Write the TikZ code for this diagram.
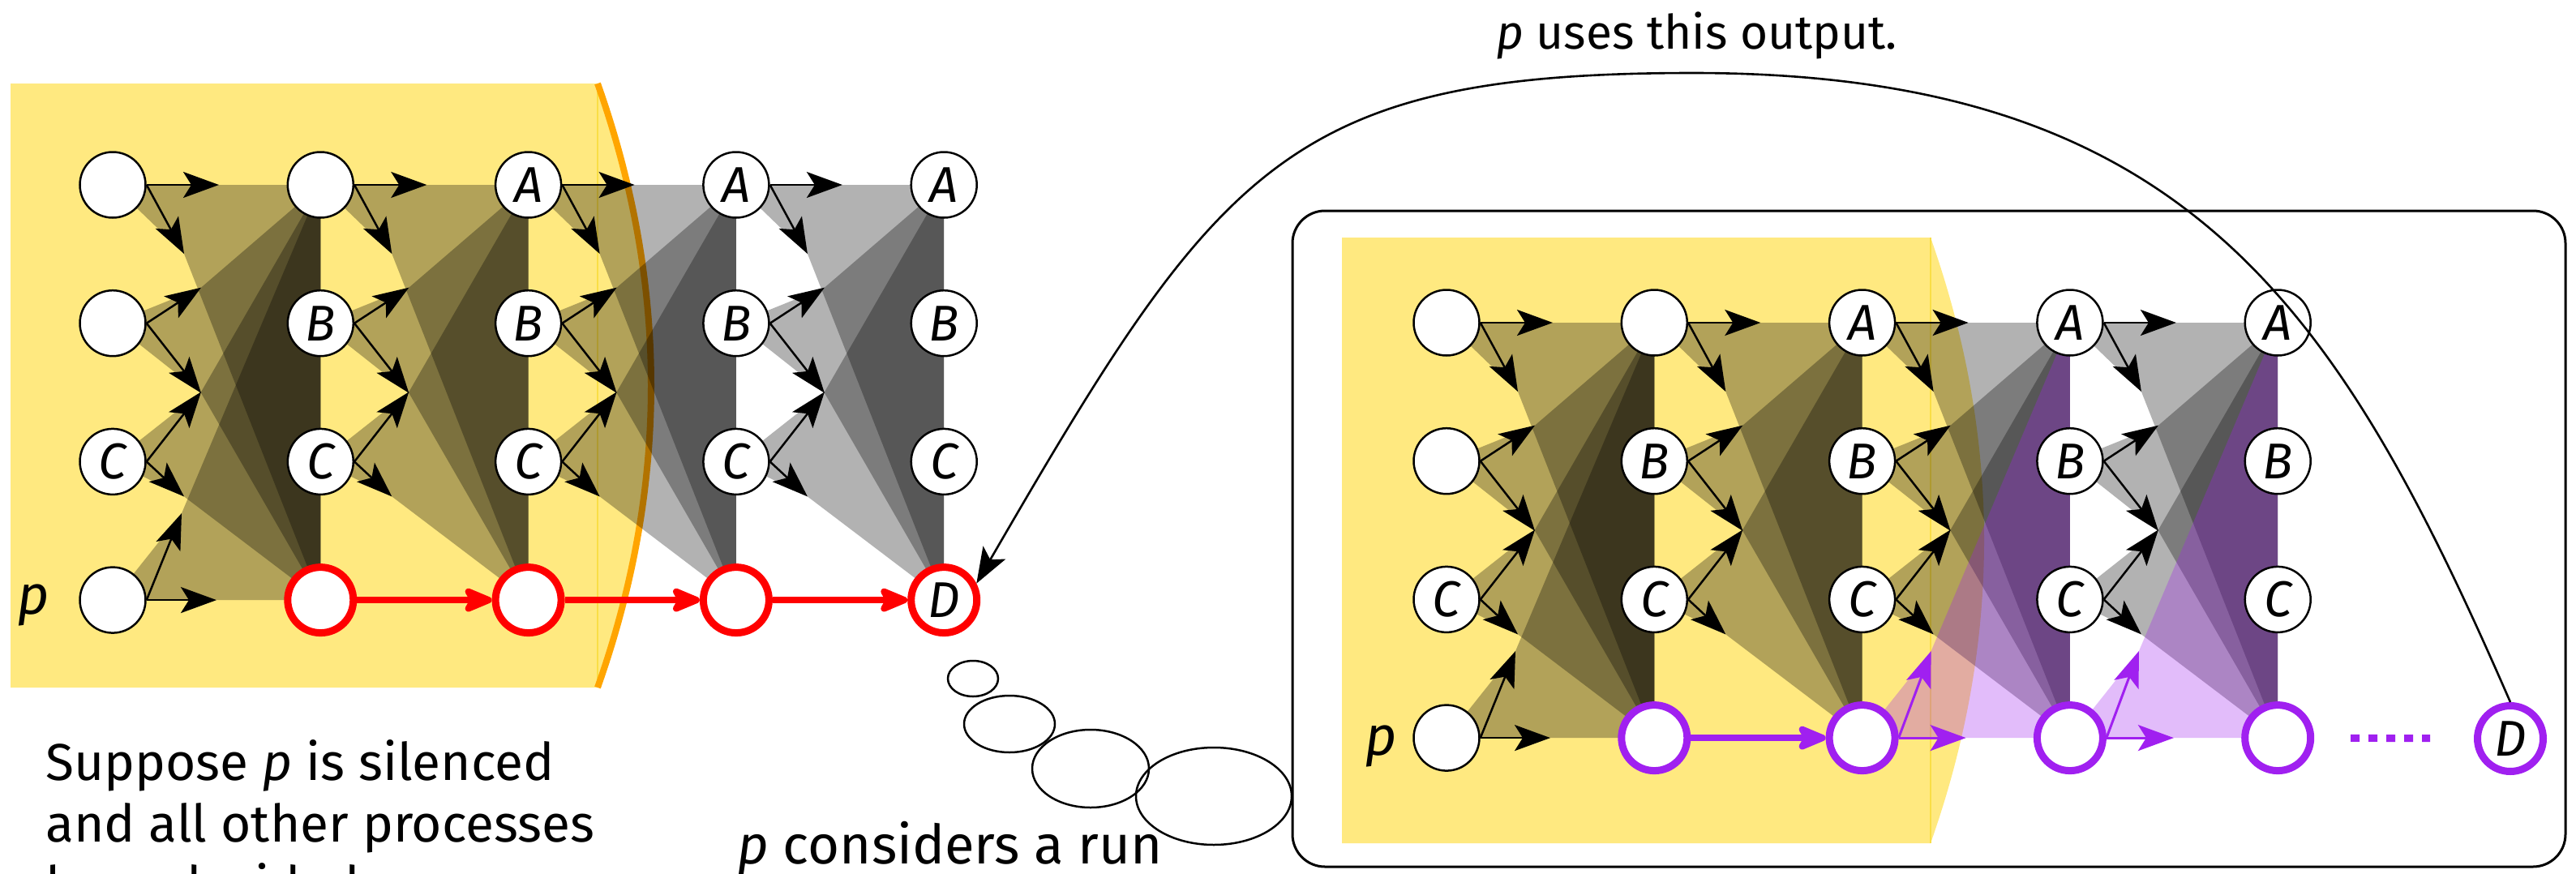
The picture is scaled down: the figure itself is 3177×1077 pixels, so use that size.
\documentclass[tikz,border=0pt]{standalone}
\usepackage{fontspec}
\setmainfont{Fira Sans}
\usetikzlibrary{arrows.meta}
\pgfdeclarelayer{yellowlayer}
\pgfdeclarelayer{fanlayer}
\pgfdeclarelayer{purplelayer}
\pgfsetlayers{yellowlayer,fanlayer,purplelayer,main}
\definecolor{ylw}{RGB}{255,233,128}
\definecolor{orng}{RGB}{255,165,0}
\definecolor{prp}{RGB}{160,32,240}
\definecolor{seamc}{RGB}{250,222,70}
\tikzset{
  proc/.style={circle, draw=black, line width=1.25pt, fill=white, minimum size=40.5pt, inner sep=0pt,
    font=\fontsize{31}{31}\selectfont\itshape},
  redproc/.style={proc, draw=red, line width=4.5pt},
  prpproc/.style={proc, draw=prp, line width=4.5pt},
  msg/.style={line width=1.25pt, -{Stealth[length=22pt,width=16pt,inset=5pt]}},
  prpmsg/.style={draw=prp, line width=1.5pt, -{Stealth[length=22pt,width=16pt,inset=5pt]}},
  redrun/.style={draw=red, line width=4pt, -{Stealth[length=22pt,width=18pt,inset=5pt,round]}},
  prprun/.style={redrun, draw=prp},
  fan/.style={fill=black, fill opacity=0.3},
  pfan/.style={fill=prp, fill opacity=0.3},
  txt/.style={inner sep=0pt, font=\fontsize{32}{38}\selectfont},
  toptxt/.style={inner sep=0pt, font=\fontsize{29.3}{36}\selectfont},
  plabel/.style={inner sep=0pt, font=\fontsize{34}{34}\selectfont\itshape},
  bubble/.style={draw=black, line width=1.25pt},
}
\begin{document}
\begin{tikzpicture}[x=0.5pt,y=-0.5pt]
\useasboundingbox (0,0) rectangle (3177,1077);
\clip (0,0) rectangle (3177,1077);

% ---------- yellow regions ----------
\begin{pgfonlayer}{yellowlayer}
  \fill[ylw] (13,103) -- (737,103) .. controls (825,351) and (825,600) .. (737,848) -- (13,848) -- cycle;
  \draw[seamc, line width=1pt] (737,103) -- (737,848);
  \draw[orng, line width=4pt] (737,103) .. controls (825,351) and (825,600) .. (737,848);
  \fill[ylw] (1655,293) -- (2381,293) .. controls (2469,542) and (2469,791) .. (2381,1040) -- (1655,1040) -- cycle;
  \draw[seamc, line width=1pt] (2381,293) -- (2381,1040);
\end{pgfonlayer}

% ---------- left diagram ----------
\begin{scope}[shift={(139,228)}]
  \foreach \i/\la/\lb in {0/{}/{}, 1/{}/B, 2/A/B, 3/A/B, 4/A/B} {
    \node[proc] (L-\i-0) at (\i*256.3, 0) {\la};
    \node[proc] (L-\i-1) at (\i*256.3, 170.7) {\lb};
    \node[proc] (L-\i-2) at (\i*256.3, 341.4) {C};
  }
  \node[proc] (L-0-3) at (0, 512.1) {};
  \foreach \i in {1,2,3} { \node[redproc] (L-\i-3) at (\i*256.3, 512.1) {}; }
  \node[redproc] (L-4-3) at (4*256.3, 512.1) {D};
  \node[plabel, anchor=base east] (Lp) at (-78, 529) {p};

  \foreach \i in {0,...,3} {
    \pgfmathtruncatemacro\ii{\i+1}
    \foreach \j/\ux/\uy/\dx/\dy in {0/131/0/88/85, 1/109/-44/109/86, 2/109/-86/88/43} {
      \path (L-\i-\j.center) ++(\ux,\uy) coordinate (L-u-\i-\j);
      \path (L-\i-\j.center) ++(\dx,\dy) coordinate (L-d-\i-\j);
      \draw[msg] (L-\i-\j.east) -- (L-u-\i-\j);
      \draw[msg] (L-\i-\j.east) -- (L-d-\i-\j);
      \begin{pgfonlayer}{fanlayer}
        \fill[fan] (L-\i-\j.center) -- (L-u-\i-\j) -- (L-\ii-0.center) -- (L-\ii-3.center) -- (L-d-\i-\j) -- cycle;
      \end{pgfonlayer}
    }
  }
  % p in round 1
  \path (L-0-3.center) ++(85,-107) coordinate (L-u-0-3);
  \path (L-0-3.center) ++(128,0) coordinate (L-d-0-3);
  \draw[msg] (L-0-3.east) -- (L-u-0-3);
  \draw[msg] (L-0-3.east) -- (L-d-0-3);
  \begin{pgfonlayer}{fanlayer}
    \fill[fan] (L-0-3.center) -- (L-u-0-3) -- (L-1-0.center) -- (L-1-3.center) -- (L-d-0-3) -- cycle;
  \end{pgfonlayer}
  \foreach \i in {1,2,3} {
    \pgfmathtruncatemacro\ii{\i+1}
    \draw[redrun] (L-\i-3) -- (L-\ii-3);
  }
\end{scope}

% ---------- right diagram ----------
\draw[line width=1.5pt, rounded corners=20pt] (1594,260) rectangle (3164,1069);
\begin{scope}[shift={(1784,398)}]
  \foreach \i/\la/\lb in {0/{}/{}, 1/{}/B, 2/A/B, 3/A/B, 4/A/B} {
    \node[proc] (R-\i-0) at (\i*256.3, 0) {\la};
    \node[proc] (R-\i-1) at (\i*256.3, 170.7) {\lb};
    \node[proc] (R-\i-2) at (\i*256.3, 341.4) {C};
  }
  \node[proc] (R-0-3) at (0, 512.1) {};
  \foreach \i in {1,...,4} { \node[prpproc] (R-\i-3) at (\i*256.3, 512.1) {}; }
  \node[plabel, anchor=base east] (Rp) at (-61, 533) {p};

  \foreach \i in {0,...,3} {
    \pgfmathtruncatemacro\ii{\i+1}
    \foreach \j/\ux/\uy/\dx/\dy in {0/131/0/88/85, 1/109/-44/109/86, 2/109/-86/88/43} {
      \path (R-\i-\j.center) ++(\ux,\uy) coordinate (R-u-\i-\j);
      \path (R-\i-\j.center) ++(\dx,\dy) coordinate (R-d-\i-\j);
      \draw[msg] (R-\i-\j.east) -- (R-u-\i-\j);
      \draw[msg] (R-\i-\j.east) -- (R-d-\i-\j);
      \begin{pgfonlayer}{fanlayer}
        \fill[fan] (R-\i-\j.center) -- (R-u-\i-\j) -- (R-\ii-0.center) -- (R-\ii-3.center) -- (R-d-\i-\j) -- cycle;
      \end{pgfonlayer}
    }
  }
  \path (R-0-3.center) ++(85,-107) coordinate (R-u-0-3);
  \path (R-0-3.center) ++(128,0) coordinate (R-d-0-3);
  \draw[msg] (R-0-3.east) -- (R-u-0-3);
  \draw[msg] (R-0-3.east) -- (R-d-0-3);
  \begin{pgfonlayer}{fanlayer}
    \fill[fan] (R-0-3.center) -- (R-u-0-3) -- (R-1-0.center) -- (R-1-3.center) -- (R-d-0-3) -- cycle;
  \end{pgfonlayer}
  \draw[prprun] (R-1-3) -- (R-2-3);
  \foreach \i in {2,3} {
    \pgfmathtruncatemacro\ii{\i+1}
    \path (R-\i-3.center) ++(85,-107) coordinate (R-u-\i-3);
    \path (R-\i-3.center) ++(128,0) coordinate (R-d-\i-3);
    \draw[prpmsg] (R-\i-3.east) -- (R-u-\i-3);
    \draw[prpmsg] (R-\i-3.east) -- (R-d-\i-3);
    \begin{pgfonlayer}{purplelayer}
      \fill[pfan] (R-\i-3.center) -- (R-u-\i-3) -- (R-\ii-0.center) -- (R-\ii-3.center) -- (R-d-\i-3) -- cycle;
    \end{pgfonlayer}
  }
\end{scope}
\node[prpproc] (RD) at (3096,911) {D};
\draw[draw=prp, line width=4.5pt, dash pattern=on 5.5pt off 5.5pt, shorten <=22.5pt, shorten >=27pt] (R-4-3) -- (RD);

% ---------- thought bubble ----------
\draw[bubble] (1200,837) ellipse [x radius=15.5pt, y radius=11pt];
\draw[bubble] (1245,893) ellipse [x radius=28pt, y radius=17.5pt];
\draw[bubble] (1345,948) ellipse [x radius=36pt, y radius=24pt];
\draw[bubble] (1497,982) ellipse [x radius=48pt, y radius=30pt];

% ---------- texts ----------
\node[txt, anchor=base west] (t1) at (56,962) {\parbox[t]{500pt}{Suppose \textit{p} is silenced\\and all other processes\\have decided.}};
\node[txt, anchor=base west, font=\fontsize{33.5}{38}\selectfont] (t2) at (909,1065) {\textit{p} considers a run};
\node[toptxt, anchor=base west] (t3) at (1845,60) {\textit{p} uses this output.};

% ---------- output arrow ----------
\draw[line width=1.3pt, -{Stealth[length=22pt,width=16pt,inset=5pt]}]
  (RD.north) .. controls (2885,382) and (2700,90) .. (2088,90)
  .. controls (1588,90) and (1503,204) .. (L-4-3.27);
\end{tikzpicture}
\end{document}
